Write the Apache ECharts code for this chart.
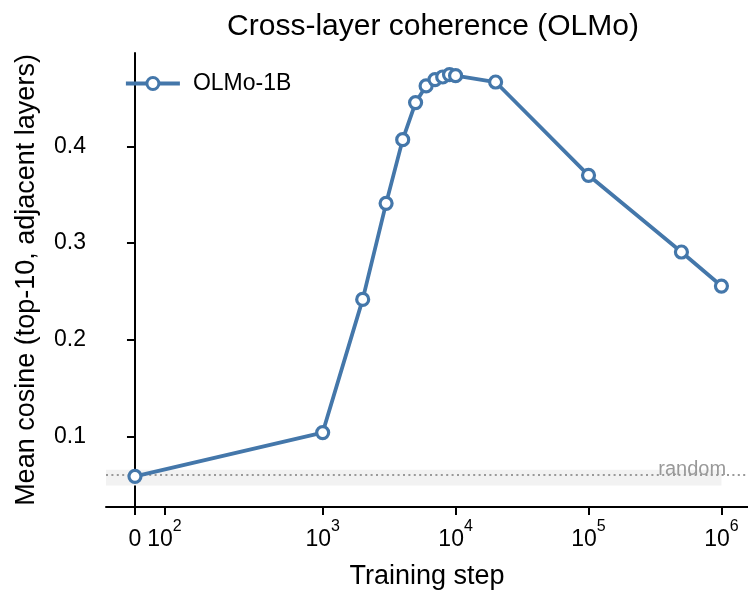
<!DOCTYPE html>
<html>
<head>
<meta charset="utf-8">
<script src="https://cdn.jsdelivr.net/npm/echarts@6/dist/echarts.min.js"></script>
<style>
  html, body { margin: 0; padding: 0; background: #fff; }
  #chart { width: 748px; height: 595px; }
</style>
</head>
<body>
<div id="chart"></div>
<script>
// training steps and mean cosine (OLMo-1B)
const steps = [0, 1000, 2000, 3000, 4000, 5000, 6000, 7000, 8000, 9000, 10000, 20000, 100000, 500000, 1000000]
const cosine = [0.0587, 0.104, 0.2417, 0.341, 0.4069, 0.4452, 0.4624, 0.469, 0.4717, 0.4742, 0.4731, 0.4665, 0.370, 0.2907, 0.2555]
// x ticks (symlog scale) and y ticks
const xTickSteps = [0, 100, 1000, 10000, 100000, 1000000]
const yTicks = [0.1, 0.2, 0.3, 0.4]
// random baseline and its band
const randomLevel = 0.058
const randomBand = [0.0493, 0.0656]

const BLUE = '#4477AA'
const FONT = 'Liberation Sans'

// symlog, linthresh 500, linscale 1 (in decades)
const LINTHRESH = 500
const LINADJ = 1 / (1 - 1 / 10)
function symlog(x) {
  if (Math.abs(x) <= LINTHRESH) return x * LINADJ / LINTHRESH
  return Math.sign(x) * (LINADJ + Math.log10(Math.abs(x) / LINTHRESH))
}

const xTicks = xTickSteps.map(symlog)
const tickLabel = {}
xTickSteps.forEach((s, i) => {
  tickLabel[xTicks[i].toFixed(6)] = s === 0 ? '{b|0}' : '{b|10}{sup|' + Math.round(Math.log10(s)) + '}'
})

const chart = echarts.init(document.getElementById('chart'))
chart.setOption({
  animation: false,
  textStyle: { fontFamily: FONT },
  title: {
    text: 'Cross-layer coherence (OLMo)',
    left: 428,
    top: 7,
    textAlign: 'center',
    textStyle: { fontFamily: FONT, fontSize: 30, fontWeight: 'normal', color: '#000' }
  },
  legend: {
    left: 124,
    top: 72,
    padding: 0,
    itemWidth: 54,
    itemHeight: 15,
    textStyle: { fontFamily: FONT, fontSize: 23, color: '#000', padding: [0, 0, 0, 8] },
    lineStyle: { color: BLUE, width: 3.8 },
    itemStyle: { color: '#fff', borderColor: BLUE, borderWidth: 3 },
    data: ['OLMo-1B']
  },
  grid: { left: 106, right: 0, top: 53, bottom: 88 },
  xAxis: {
    type: 'value',
    min: -0.218,
    max: 4.612,
    name: 'Training step',
    nameLocation: 'middle',
    nameGap: 56,
    nameTextStyle: { fontFamily: FONT, fontSize: 27, color: '#000' },
    axisLine: { lineStyle: { color: '#000', width: 2 } },
    axisTick: { customValues: xTicks, length: 8, lineStyle: { color: '#000', width: 2 } },
    axisLabel: {
      customValues: xTicks,
      margin: 12,
      color: '#000',
      formatter: v => tickLabel[v.toFixed(6)] || '',
      fontSize: 23,
      rich: {
        b: { fontFamily: FONT, fontSize: 23, color: '#000', lineHeight: 32, verticalAlign: 'bottom' },
        sup: { fontFamily: FONT, fontSize: 16, color: '#000', lineHeight: 32, verticalAlign: 'top' }
      }
    },
    splitLine: { show: false }
  },
  yAxis: {
    type: 'value',
    min: 0.027,
    max: 0.4965,
    name: 'Mean cosine (top-10, adjacent layers)',
    nameLocation: 'middle',
    nameGap: 66,
    nameTextStyle: { fontFamily: FONT, fontSize: 27, color: '#000' },
    axisLine: { show: true, lineStyle: { color: '#000', width: 2 } },
    axisTick: { show: true, customValues: yTicks, length: 8, lineStyle: { color: '#000', width: 2 } },
    axisLabel: {
      customValues: yTicks,
      margin: 20,
      fontSize: 23,
      color: '#000',
      formatter: v => v.toFixed(1)
    },
    splitLine: { show: false }
  },
  series: [
    {
      name: 'OLMo-1B',
      type: 'line',
      z: 5,
      data: steps.map((s, i) => [symlog(s), cosine[i]]),
      symbol: 'circle',
      symbolSize: 12,
      lineStyle: { color: BLUE, width: 3.8 },
      itemStyle: { color: '#fff', borderColor: BLUE, borderWidth: 3.2 }
    },
    {
      name: 'random',
      type: 'line',
      z: 1,
      data: [],
      silent: true,
      markArea: {
        silent: true,
        itemStyle: { color: '#f2f2f2' },
        data: [[
          { xAxis: -0.218, yAxis: randomBand[0] },
          { xAxis: symlog(1000000), yAxis: randomBand[1] }
        ]]
      },
      markLine: {
        silent: true,
        symbol: 'none',
        label: { show: false },
        lineStyle: { color: '#999', width: 1.8, type: [2, 3.4] },
        data: [{ yAxis: randomLevel }]
      },
      markPoint: {
        silent: true,
        symbolSize: 0,
        label: {
          show: true,
          formatter: 'random',
          position: [0, 0],
          align: 'right',
          verticalAlign: 'bottom',
          offset: [0, 2],
          fontFamily: FONT,
          fontSize: 20,
          color: '#999'
        },
        data: [{ coord: [symlog(1000000) + 0.035, randomLevel] }]
      }
    }
  ]
})
</script>
</body>
</html>
